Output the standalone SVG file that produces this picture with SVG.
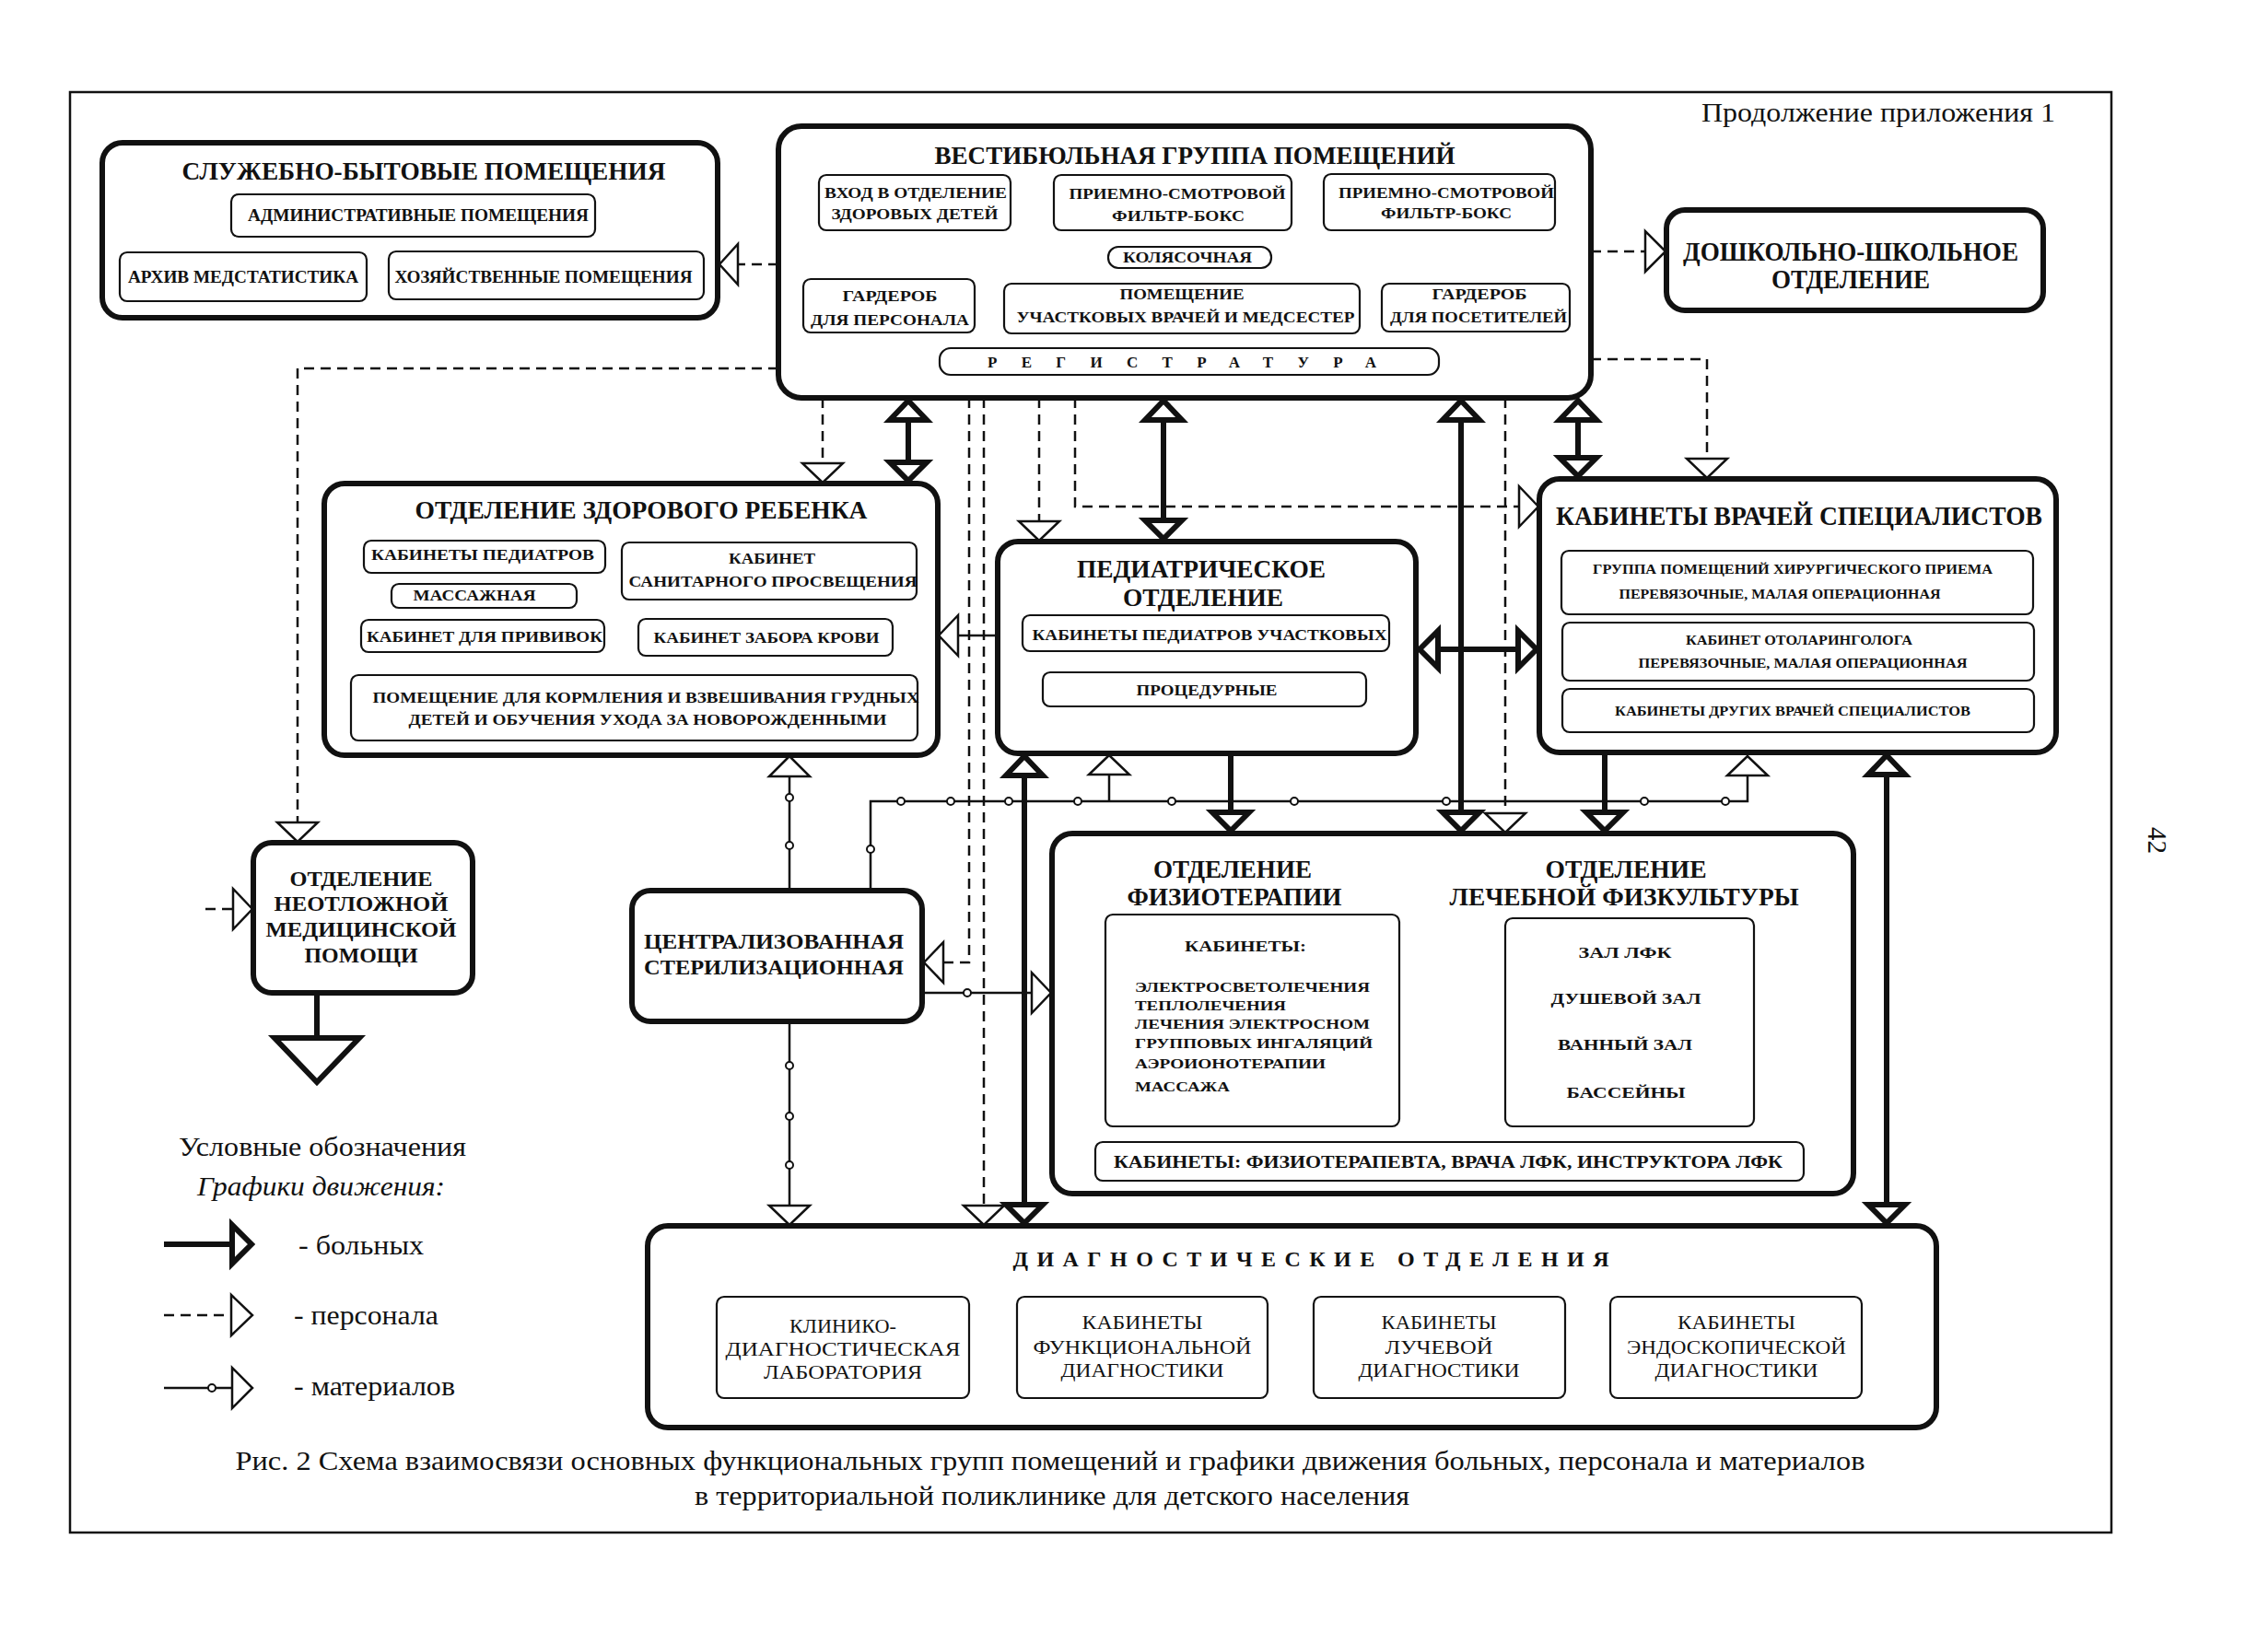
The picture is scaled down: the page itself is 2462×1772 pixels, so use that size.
<svg xmlns="http://www.w3.org/2000/svg" width="2462" height="1772" viewBox="0 0 2462 1772">
<style>
text{font-family:"Liberation Serif","DejaVu Serif",serif;fill:#111}
.b{font-weight:bold}
.c{text-anchor:middle}
.f13{font-size:14px}.f16{font-size:17px}.f18{font-size:18px}.f20{font-size:22px}.f24{font-size:24px}.f26{font-size:27px}.f28{font-size:29px}
.big{fill:#fff;stroke:#111;stroke-width:6}
.sub{fill:none;stroke:#111;stroke-width:2.2}
.frame{fill:none;stroke:#111;stroke-width:2.5}
.dash{fill:none;stroke:#111;stroke-width:2.5;stroke-dasharray:11 7}
.pat{fill:none;stroke:#111;stroke-width:6}
.mat{fill:none;stroke:#111;stroke-width:2.5}
.ah{fill:#fff;stroke:#111;stroke-width:2.5;stroke-linejoin:miter}
.ahp{fill:#fff;stroke:#111;stroke-width:6;stroke-linejoin:miter}
.dot{fill:#fff;stroke:#111;stroke-width:2}
</style>
<rect x="0" y="0" width="2462" height="1772" fill="#fff"/>
<rect class="frame" x="76" y="100" width="2216" height="1564"/>
<text x="1847" y="132" class="f28" textLength="384" lengthAdjust="spacingAndGlyphs">Продолжение приложения 1</text>
<text transform="translate(2332,898) rotate(90)" class="f28">42</text>

<g id="connectors">
<!-- staff (dashed) -->
<path class="dash" d="M845,287 H801"/><polygon class="ah" points="781,287 801,265 801,309"/>
<path class="dash" d="M1727,273 H1787"/><polygon class="ah" points="1808,273 1786,251 1786,295"/>
<path class="dash" d="M845,400 H323 V893"/><polygon class="ah" points="301,893 345,893 323,914"/>
<path class="dash" d="M1727,390 H1853 V498"/><polygon class="ah" points="1831,498 1875,498 1853,519"/>
<path class="dash" d="M223,987 H253"/><polygon class="ah" points="274,987 253,965 253,1009"/>
<path class="dash" d="M893,432 V503"/><polygon class="ah" points="871,503 915,503 893,524"/>
<path class="dash" d="M1052,432 V1045 H1024"/><polygon class="ah" points="1003,1045 1024,1023 1024,1067"/>
<path class="dash" d="M1068,432 V1309"/><polygon class="ah" points="1046,1309 1090,1309 1068,1330"/>
<path class="dash" d="M1128,432 V566"/><polygon class="ah" points="1106,566 1150,566 1128,587"/>
<path class="dash" d="M1167,432 V550 H1649"/><polygon class="ah" points="1670,550 1649,528 1649,572"/>
<path class="dash" d="M1634,432 V883"/><polygon class="ah" points="1612,883 1656,883 1634,904"/>
<!-- patients (thick) -->
<path class="pat" d="M986,455 V502"/><polygon class="ahp" points="986,435 966,456 1006,456"/><polygon class="ahp" points="966,502 1006,502 986,522"/>
<path class="pat" d="M1263,456 V565"/><polygon class="ahp" points="1263,435 1243,456 1283,456"/><polygon class="ahp" points="1243,565 1283,565 1263,585"/>
<path class="pat" d="M1586,456 V882"/><polygon class="ahp" points="1586,435 1566,456 1606,456"/><polygon class="ahp" points="1566,882 1606,882 1586,902"/>
<path class="pat" d="M1713,456 V497"/><polygon class="ahp" points="1713,435 1693,456 1733,456"/><polygon class="ahp" points="1693,497 1733,497 1713,517"/>
<path class="pat" d="M1561,705 H1648"/><polygon class="ahp" points="1541,705 1561,685 1561,725"/><polygon class="ahp" points="1668,705 1648,685 1648,725"/>
<path class="pat" d="M1112,842 V1308"/><polygon class="ahp" points="1112,821 1092,842 1132,842"/><polygon class="ahp" points="1092,1308 1132,1308 1112,1328"/>
<path class="pat" d="M1336,818 V882"/><polygon class="ahp" points="1316,882 1356,882 1336,902"/>
<path class="pat" d="M1742,817 V882"/><polygon class="ahp" points="1722,882 1762,882 1742,902"/>
<path class="pat" d="M2048,841 V1308"/><polygon class="ahp" points="2048,820 2028,841 2068,841"/><polygon class="ahp" points="2028,1308 2068,1308 2048,1328"/>
<path class="pat" d="M344,1078 V1127"/><polygon class="ahp" points="298,1127 390,1127 344,1175"/>
<!-- materials (thin with dots) -->
<path class="mat" d="M857,967 V843"/><polygon class="ah" points="857,821 835,843 879,843"/>
<path class="mat" d="M945,967 V870 H1897 V842"/><polygon class="ah" points="1897,821 1875,842 1919,842"/>
<path class="mat" d="M1204,870 V841"/><polygon class="ah" points="1204,820 1182,841 1226,841"/>
<path class="mat" d="M1001,1078 H1120"/><polygon class="ah" points="1141,1078 1120,1056 1120,1100"/>
<path class="mat" d="M857,1109 V1309"/><polygon class="ah" points="835,1309 879,1309 857,1330"/>
<path class="mat" d="M1083,690 H1040"/><polygon class="ah" points="1019,690 1040,668 1040,712"/>
<circle class="dot" cx="857" cy="866" r="4"/><circle class="dot" cx="857" cy="918" r="4"/>
<circle class="dot" cx="945" cy="922" r="4"/>
<circle class="dot" cx="978" cy="870" r="4"/><circle class="dot" cx="1032" cy="870" r="4"/><circle class="dot" cx="1095" cy="870" r="4"/>
<circle class="dot" cx="1170" cy="870" r="4"/><circle class="dot" cx="1272" cy="870" r="4"/><circle class="dot" cx="1405" cy="870" r="4"/>
<circle class="dot" cx="1570" cy="870" r="4"/><circle class="dot" cx="1785" cy="870" r="4"/><circle class="dot" cx="1873" cy="870" r="4"/>
<circle class="dot" cx="1050" cy="1078" r="4"/>
<circle class="dot" cx="857" cy="1157" r="4"/><circle class="dot" cx="857" cy="1212" r="4"/><circle class="dot" cx="857" cy="1265" r="4"/>
</g>

<g id="sluzhebno">
<rect class="big" x="111" y="155" width="668" height="190" rx="22"/>
<text x="460" y="195" class="b c f26" textLength="525" lengthAdjust="spacingAndGlyphs">СЛУЖЕБНО-БЫТОВЫЕ ПОМЕЩЕНИЯ</text>
<rect class="sub" x="251" y="211" width="395" height="46" rx="8"/>
<text x="454" y="240" class="b c f18" textLength="370" lengthAdjust="spacingAndGlyphs">АДМИНИСТРАТИВНЫЕ ПОМЕЩЕНИЯ</text>
<rect class="sub" x="130" y="274" width="268" height="53" rx="8"/>
<text x="264" y="307" class="b c f18" textLength="250" lengthAdjust="spacingAndGlyphs">АРХИВ МЕДСТАТИСТИКА</text>
<rect class="sub" x="422" y="273" width="342" height="52" rx="8"/>
<text x="590" y="307" class="b c f18" textLength="323" lengthAdjust="spacingAndGlyphs">ХОЗЯЙСТВЕННЫЕ ПОМЕЩЕНИЯ</text>
</g>

<g id="vestibul">
<rect class="big" x="845" y="137" width="882" height="295" rx="25"/>
<text x="1297" y="178" class="b c f26" textLength="565" lengthAdjust="spacingAndGlyphs">ВЕСТИБЮЛЬНАЯ ГРУППА ПОМЕЩЕНИЙ</text>
<rect class="sub" x="889" y="190" width="208" height="60" rx="8"/>
<text x="994" y="215" class="b c f16" textLength="198" lengthAdjust="spacingAndGlyphs">ВХОД В ОТДЕЛЕНИЕ</text>
<text x="993" y="238" class="b c f16" textLength="181" lengthAdjust="spacingAndGlyphs">ЗДОРОВЫХ ДЕТЕЙ</text>
<rect class="sub" x="1144" y="190" width="258" height="60" rx="8"/>
<text x="1278" y="216" class="b c f16" textLength="235" lengthAdjust="spacingAndGlyphs">ПРИЕМНО-СМОТРОВОЙ</text>
<text x="1279" y="240" class="b c f16" textLength="144" lengthAdjust="spacingAndGlyphs">ФИЛЬТР-БОКС</text>
<rect class="sub" x="1437" y="189" width="251" height="61" rx="8"/>
<text x="1570" y="215" class="b c f16" textLength="234" lengthAdjust="spacingAndGlyphs">ПРИЕМНО-СМОТРОВОЙ</text>
<text x="1570" y="237" class="b c f16" textLength="142" lengthAdjust="spacingAndGlyphs">ФИЛЬТР-БОКС</text>
<rect class="sub" x="1203" y="268" width="177" height="23" rx="11"/>
<text x="1289" y="285" class="b c f16" textLength="140" lengthAdjust="spacingAndGlyphs">КОЛЯСОЧНАЯ</text>
<rect class="sub" x="872" y="303" width="186" height="58" rx="8"/>
<text x="966" y="327" class="b c f16" textLength="103" lengthAdjust="spacingAndGlyphs">ГАРДЕРОБ</text>
<text x="966" y="353" class="b c f16" textLength="172" lengthAdjust="spacingAndGlyphs">ДЛЯ ПЕРСОНАЛА</text>
<rect class="sub" x="1090" y="308" width="386" height="54" rx="8"/>
<text x="1283" y="325" class="b c f16" textLength="135" lengthAdjust="spacingAndGlyphs">ПОМЕЩЕНИЕ</text>
<text x="1287" y="350" class="b c f16" textLength="367" lengthAdjust="spacingAndGlyphs">УЧАСТКОВЫХ ВРАЧЕЙ И МЕДСЕСТЕР</text>
<rect class="sub" x="1500" y="308" width="204" height="52" rx="8"/>
<text x="1606" y="325" class="b c f16" textLength="103" lengthAdjust="spacingAndGlyphs">ГАРДЕРОБ</text>
<text x="1605" y="350" class="b c f16" textLength="192" lengthAdjust="spacingAndGlyphs">ДЛЯ ПОСЕТИТЕЛЕЙ</text>
<rect class="sub" x="1020" y="378" width="542" height="29" rx="12"/>
<text x="1283" y="399" class="b c f16" textLength="422" lengthAdjust="spacing">РЕГИСТРАТУРА</text>
</g>

<g id="doshkolno">
<rect class="big" x="1809" y="228" width="409" height="109" rx="20"/>
<text x="2009" y="283" class="b c f28" textLength="364" lengthAdjust="spacingAndGlyphs">ДОШКОЛЬНО-ШКОЛЬНОЕ</text>
<text x="2009" y="313" class="b c f28" textLength="172" lengthAdjust="spacingAndGlyphs">ОТДЕЛЕНИЕ</text>
</g>

<g id="zdorovyi">
<rect class="big" x="352" y="525" width="666" height="295" rx="22"/>
<text x="696" y="563" class="b c f26" textLength="491" lengthAdjust="spacingAndGlyphs">ОТДЕЛЕНИЕ ЗДОРОВОГО РЕБЕНКА</text>
<rect class="sub" x="395" y="587" width="262" height="35" rx="8"/>
<text x="524" y="608" class="b c f16" textLength="242" lengthAdjust="spacingAndGlyphs">КАБИНЕТЫ ПЕДИАТРОВ</text>
<rect class="sub" x="675" y="589" width="320" height="62" rx="8"/>
<text x="838" y="612" class="b c f16" textLength="94" lengthAdjust="spacingAndGlyphs">КАБИНЕТ</text>
<text x="839" y="637" class="b c f16" textLength="313" lengthAdjust="spacingAndGlyphs">САНИТАРНОГО ПРОСВЕЩЕНИЯ</text>
<rect class="sub" x="425" y="634" width="201" height="26" rx="8"/>
<text x="515" y="652" class="b c f16" textLength="133" lengthAdjust="spacingAndGlyphs">МАССАЖНАЯ</text>
<rect class="sub" x="392" y="673" width="264" height="35" rx="8"/>
<text x="526" y="697" class="b c f16" textLength="256" lengthAdjust="spacingAndGlyphs">КАБИНЕТ ДЛЯ ПРИВИВОК</text>
<rect class="sub" x="693" y="672" width="276" height="40" rx="8"/>
<text x="832" y="698" class="b c f16" textLength="245" lengthAdjust="spacingAndGlyphs">КАБИНЕТ ЗАБОРА КРОВИ</text>
<rect class="sub" x="381" y="733" width="615" height="71" rx="8"/>
<text x="701" y="763" class="b c f16" textLength="593" lengthAdjust="spacingAndGlyphs">ПОМЕЩЕНИЕ ДЛЯ КОРМЛЕНИЯ И ВЗВЕШИВАНИЯ ГРУДНЫХ</text>
<text x="703" y="787" class="b c f16" textLength="519" lengthAdjust="spacingAndGlyphs">ДЕТЕЙ И ОБУЧЕНИЯ УХОДА ЗА НОВОРОЖДЕННЫМИ</text>
</g>

<g id="pediatr">
<rect class="big" x="1083" y="588" width="454" height="230" rx="22"/>
<text x="1304" y="627" class="b c f26" textLength="270" lengthAdjust="spacingAndGlyphs">ПЕДИАТРИЧЕСКОЕ</text>
<text x="1306" y="658" class="b c f26" textLength="174" lengthAdjust="spacingAndGlyphs">ОТДЕЛЕНИЕ</text>
<rect class="sub" x="1110" y="668" width="398" height="39" rx="8"/>
<text x="1313" y="695" class="b c f16" textLength="385" lengthAdjust="spacingAndGlyphs">КАБИНЕТЫ ПЕДИАТРОВ УЧАСТКОВЫХ</text>
<rect class="sub" x="1132" y="730" width="351" height="37" rx="8"/>
<text x="1310" y="755" class="b c f16" textLength="153" lengthAdjust="spacingAndGlyphs">ПРОЦЕДУРНЫЕ</text>
</g>

<g id="specialist">
<rect class="big" x="1671" y="520" width="561" height="297" rx="22"/>
<text x="1953" y="570" class="b c f28" textLength="528" lengthAdjust="spacingAndGlyphs">КАБИНЕТЫ ВРАЧЕЙ СПЕЦИАЛИСТОВ</text>
<rect class="sub" x="1695" y="598" width="512" height="69" rx="8"/>
<text x="1946" y="623" class="b c f13" textLength="434" lengthAdjust="spacingAndGlyphs">ГРУППА ПОМЕЩЕНИЙ ХИРУРГИЧЕСКОГО ПРИЕМА</text>
<text x="1932" y="650" class="b c f13" textLength="349" lengthAdjust="spacingAndGlyphs">ПЕРЕВЯЗОЧНЫЕ, МАЛАЯ ОПЕРАЦИОННАЯ</text>
<rect class="sub" x="1696" y="676" width="512" height="63" rx="8"/>
<text x="1953" y="700" class="b c f13" textLength="246" lengthAdjust="spacingAndGlyphs">КАБИНЕТ ОТОЛАРИНГОЛОГА</text>
<text x="1957" y="725" class="b c f13" textLength="357" lengthAdjust="spacingAndGlyphs">ПЕРЕВЯЗОЧНЫЕ, МАЛАЯ ОПЕРАЦИОННАЯ</text>
<rect class="sub" x="1696" y="748" width="512" height="47" rx="8"/>
<text x="1946" y="777" class="b c f13" textLength="386" lengthAdjust="spacingAndGlyphs">КАБИНЕТЫ ДРУГИХ ВРАЧЕЙ СПЕЦИАЛИСТОВ</text>
</g>

<g id="neotlozhnaya">
<rect class="big" x="275" y="915" width="238" height="163" rx="20"/>
<text x="392" y="962" class="b c f24" textLength="155" lengthAdjust="spacingAndGlyphs">ОТДЕЛЕНИЕ</text>
<text x="392" y="989" class="b c f24" textLength="189" lengthAdjust="spacingAndGlyphs">НЕОТЛОЖНОЙ</text>
<text x="392" y="1017" class="b c f24" textLength="207" lengthAdjust="spacingAndGlyphs">МЕДИЦИНСКОЙ</text>
<text x="392" y="1045" class="b c f24" textLength="123" lengthAdjust="spacingAndGlyphs">ПОМОЩИ</text>
</g>

<g id="steril">
<rect class="big" x="686" y="967" width="315" height="142" rx="20"/>
<text x="840" y="1030" class="b c f24" textLength="282" lengthAdjust="spacingAndGlyphs">ЦЕНТРАЛИЗОВАННАЯ</text>
<text x="840" y="1058" class="b c f24" textLength="282" lengthAdjust="spacingAndGlyphs">СТЕРИЛИЗАЦИОННАЯ</text>
</g>

<g id="fizio">
<rect class="big" x="1142" y="905" width="870" height="391" rx="22"/>
<text x="1338" y="953" class="b c f26" textLength="172" lengthAdjust="spacingAndGlyphs">ОТДЕЛЕНИЕ</text>
<text x="1340" y="983" class="b c f26" textLength="233" lengthAdjust="spacingAndGlyphs">ФИЗИОТЕРАПИИ</text>
<text x="1765" y="953" class="b c f26" textLength="175" lengthAdjust="spacingAndGlyphs">ОТДЕЛЕНИЕ</text>
<text x="1763" y="983" class="b c f26" textLength="379" lengthAdjust="spacingAndGlyphs">ЛЕЧЕБНОЙ ФИЗКУЛЬТУРЫ</text>
<rect class="sub" x="1200" y="993" width="319" height="230" rx="8"/>
<text x="1352" y="1033" class="b c f16" textLength="132" lengthAdjust="spacingAndGlyphs">КАБИНЕТЫ:</text>
<text x="1232" y="1077" class="b f13" textLength="255" lengthAdjust="spacingAndGlyphs">ЭЛЕКТРОСВЕТОЛЕЧЕНИЯ</text>
<text x="1232" y="1097" class="b f13" textLength="164" lengthAdjust="spacingAndGlyphs">ТЕПЛОЛЕЧЕНИЯ</text>
<text x="1232" y="1117" class="b f13" textLength="255" lengthAdjust="spacingAndGlyphs">ЛЕЧЕНИЯ ЭЛЕКТРОСНОМ</text>
<text x="1232" y="1138" class="b f13" textLength="258" lengthAdjust="spacingAndGlyphs">ГРУППОВЫХ ИНГАЛЯЦИЙ</text>
<text x="1232" y="1160" class="b f13" textLength="207" lengthAdjust="spacingAndGlyphs">АЭРОИОНОТЕРАПИИ</text>
<text x="1232" y="1185" class="b f13" textLength="103" lengthAdjust="spacingAndGlyphs">МАССАЖА</text>
<rect class="sub" x="1634" y="997" width="270" height="226" rx="8"/>
<text x="1764" y="1040" class="b c f16" textLength="101" lengthAdjust="spacingAndGlyphs">ЗАЛ ЛФК</text>
<text x="1765" y="1090" class="b c f16" textLength="163" lengthAdjust="spacingAndGlyphs">ДУШЕВОЙ ЗАЛ</text>
<text x="1764" y="1140" class="b c f16" textLength="146" lengthAdjust="spacingAndGlyphs">ВАННЫЙ ЗАЛ</text>
<text x="1765" y="1192" class="b c f16" textLength="129" lengthAdjust="spacingAndGlyphs">БАССЕЙНЫ</text>
<rect class="sub" x="1189" y="1240" width="769" height="42" rx="8"/>
<text x="1572" y="1268" class="b c f18" textLength="726" lengthAdjust="spacingAndGlyphs">КАБИНЕТЫ: ФИЗИОТЕРАПЕВТА, ВРАЧА ЛФК, ИНСТРУКТОРА ЛФК</text>
</g>

<g id="diagnostic">
<rect class="big" x="703" y="1331" width="1399" height="219" rx="22"/>
<text x="1423" y="1375" class="b c f24" textLength="647" lengthAdjust="spacing">ДИАГНОСТИЧЕСКИЕ ОТДЕЛЕНИЯ</text>
<rect class="sub" x="778" y="1408" width="274" height="110" rx="8"/>
<text x="915" y="1447" class="c f20" textLength="116" lengthAdjust="spacingAndGlyphs">КЛИНИКО-</text>
<text x="915" y="1472" class="c f20" textLength="255" lengthAdjust="spacingAndGlyphs">ДИАГНОСТИЧЕСКАЯ</text>
<text x="915" y="1497" class="c f20" textLength="172" lengthAdjust="spacingAndGlyphs">ЛАБОРАТОРИЯ</text>
<rect class="sub" x="1104" y="1408" width="272" height="110" rx="8"/>
<text x="1240" y="1443" class="c f20" textLength="131" lengthAdjust="spacingAndGlyphs">КАБИНЕТЫ</text>
<text x="1240" y="1470" class="c f20" textLength="237" lengthAdjust="spacingAndGlyphs">ФУНКЦИОНАЛЬНОЙ</text>
<text x="1240" y="1495" class="c f20" textLength="177" lengthAdjust="spacingAndGlyphs">ДИАГНОСТИКИ</text>
<rect class="sub" x="1426" y="1408" width="273" height="110" rx="8"/>
<text x="1562" y="1443" class="c f20" textLength="125" lengthAdjust="spacingAndGlyphs">КАБИНЕТЫ</text>
<text x="1562" y="1470" class="c f20" textLength="117" lengthAdjust="spacingAndGlyphs">ЛУЧЕВОЙ</text>
<text x="1562" y="1495" class="c f20" textLength="175" lengthAdjust="spacingAndGlyphs">ДИАГНОСТИКИ</text>
<rect class="sub" x="1748" y="1408" width="273" height="110" rx="8"/>
<text x="1885" y="1443" class="c f20" textLength="128" lengthAdjust="spacingAndGlyphs">КАБИНЕТЫ</text>
<text x="1885" y="1470" class="c f20" textLength="238" lengthAdjust="spacingAndGlyphs">ЭНДОСКОПИЧЕСКОЙ</text>
<text x="1885" y="1495" class="c f20" textLength="177" lengthAdjust="spacingAndGlyphs">ДИАГНОСТИКИ</text>
</g>

<g id="legend">
<text x="194" y="1255" class="f28" textLength="312" lengthAdjust="spacingAndGlyphs">Условные обозначения</text>
<text x="214" y="1298" class="f28" font-style="italic" textLength="269" lengthAdjust="spacingAndGlyphs">Графики движения:</text>
<path class="pat" d="M178,1351 H250"/><polygon class="ahp" points="252,1330 252,1372 273,1351"/>
<text x="324" y="1362" class="f28" textLength="136" lengthAdjust="spacingAndGlyphs">- больных</text>
<path class="dash" d="M178,1428 H250"/><polygon class="ah" points="251,1406 251,1450 274,1428"/>
<text x="319" y="1438" class="f28" textLength="157" lengthAdjust="spacingAndGlyphs">- персонала</text>
<path class="mat" d="M178,1507 H252"/><polygon class="ah" points="252,1485 252,1529 274,1507"/><circle class="dot" cx="230" cy="1507" r="4"/>
<text x="319" y="1515" class="f28" textLength="175" lengthAdjust="spacingAndGlyphs">- материалов</text>
</g>

<g id="caption">
<text x="1140" y="1596" class="c f28" textLength="1769" lengthAdjust="spacingAndGlyphs">Рис. 2  Схема взаимосвязи основных функциональных групп помещений и графики движения больных, персонала и материалов</text>
<text x="1142" y="1634" class="c f28" textLength="776" lengthAdjust="spacingAndGlyphs">в территориальной поликлинике для детского населения</text>
</g>
</svg>
